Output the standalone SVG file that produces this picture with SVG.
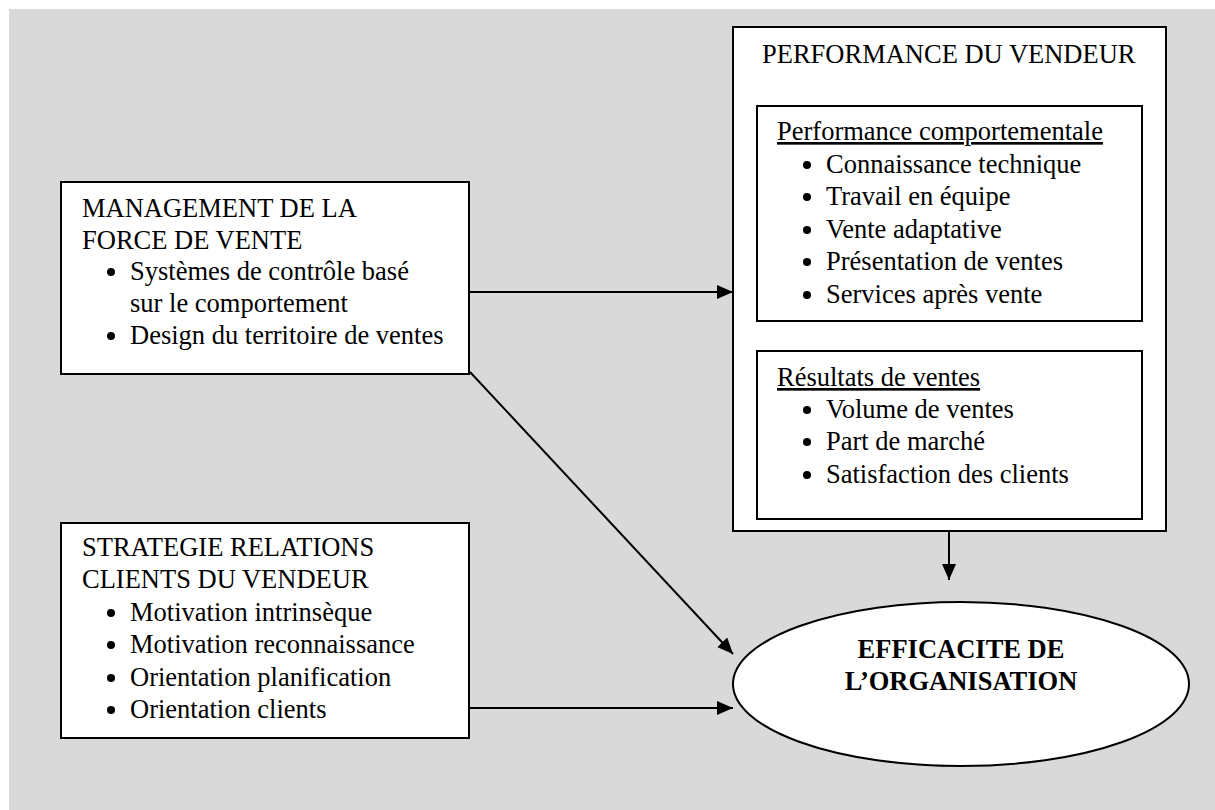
<svg xmlns="http://www.w3.org/2000/svg" width="1215" height="810" viewBox="0 0 1215 810">
<style>
.box{fill:#fff;stroke:#000;stroke-width:2}
.t{font-family:"Liberation Serif","Times New Roman",serif;font-size:26.5px;fill:#000}
.b{font-weight:bold}
.u{text-decoration:underline}
.dot{fill:#000}
.conn{stroke:#000;stroke-width:2;fill:none;marker-end:url(#ah)}
</style>
<defs>
<marker id="ah" markerUnits="userSpaceOnUse" markerWidth="16" markerHeight="14" refX="16" refY="7" orient="auto">
<path d="M0,0 L16,7 L0,14 Z" fill="#000"/>
</marker>
</defs>
<rect x="9" y="9" width="1206" height="801" fill="#d9d9d9"/>

<g id="management">
<rect class="box" x="61" y="182" width="408" height="192"/>
<text class="t" x="82" y="217">MANAGEMENT DE LA</text>
<text class="t" x="82" y="249">FORCE DE VENTE</text>
<circle class="dot" cx="111" cy="272" r="4"/>
<text class="t" x="130" y="280">Systèmes de contrôle basé</text>
<text class="t" x="130" y="312">sur le comportement</text>
<circle class="dot" cx="111" cy="336" r="4"/>
<text class="t" x="130" y="344">Design du territoire de ventes</text>
</g>

<g id="strategie">
<rect class="box" x="61" y="523" width="408" height="215"/>
<text class="t" x="82" y="556">STRATEGIE RELATIONS</text>
<text class="t" x="82" y="588">CLIENTS DU VENDEUR</text>
<circle class="dot" cx="111" cy="613" r="4"/>
<text class="t" x="130" y="621">Motivation intrinsèque</text>
<circle class="dot" cx="111" cy="645" r="4"/>
<text class="t" x="130" y="653">Motivation reconnaissance</text>
<circle class="dot" cx="111" cy="678" r="4"/>
<text class="t" x="130" y="686">Orientation planification</text>
<circle class="dot" cx="111" cy="710" r="4"/>
<text class="t" x="130" y="718">Orientation clients</text>
</g>

<g id="performance">
<rect class="box" x="733" y="27" width="433" height="504"/>
<text class="t" x="762" y="63">PERFORMANCE DU VENDEUR</text>
<g id="comportementale">
<rect class="box" x="757" y="106" width="385" height="215"/>
<text class="t u" x="777" y="140">Performance comportementale</text>
<circle class="dot" cx="807" cy="165" r="4"/>
<text class="t" x="826" y="173">Connaissance technique</text>
<circle class="dot" cx="807" cy="197" r="4"/>
<text class="t" x="826" y="205">Travail en équipe</text>
<circle class="dot" cx="807" cy="230" r="4"/>
<text class="t" x="826" y="238">Vente adaptative</text>
<circle class="dot" cx="807" cy="262" r="4"/>
<text class="t" x="826" y="270">Présentation de ventes</text>
<circle class="dot" cx="807" cy="295" r="4"/>
<text class="t" x="826" y="303">Services après vente</text>
</g>
<g id="resultats">
<rect class="box" x="757" y="351" width="385" height="168"/>
<text class="t u" x="777" y="386">Résultats de ventes</text>
<circle class="dot" cx="807" cy="410" r="4"/>
<text class="t" x="826" y="418">Volume de ventes</text>
<circle class="dot" cx="807" cy="442" r="4"/>
<text class="t" x="826" y="450">Part de marché</text>
<circle class="dot" cx="807" cy="475" r="4"/>
<text class="t" x="826" y="483">Satisfaction des clients</text>
</g>
</g>

<g id="efficacite">
<ellipse class="box" cx="961" cy="684" rx="228" ry="82"/>
<text class="t b" x="961" y="658" text-anchor="middle">EFFICACITE DE</text>
<text class="t b" x="961" y="690" text-anchor="middle">L’ORGANISATION</text>
</g>

<g id="connectors">
<line class="conn" x1="469" y1="292" x2="733" y2="292"/>
<line class="conn" x1="470" y1="372" x2="733" y2="654"/>
<line class="conn" x1="469" y1="708" x2="733" y2="708"/>
<line class="conn" x1="949" y1="531" x2="949" y2="580"/>
</g>
</svg>
